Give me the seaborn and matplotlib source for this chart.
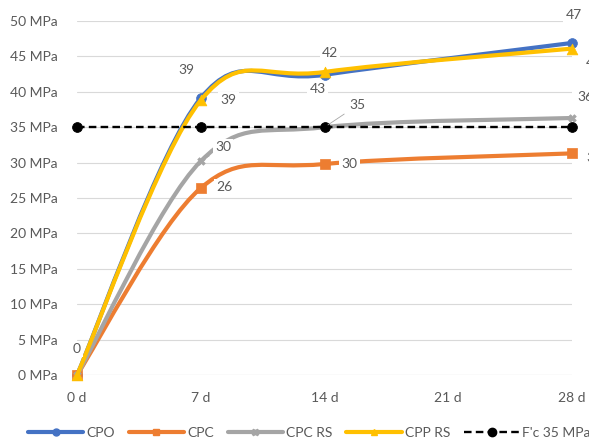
import numpy as np
import pandas as pd
import matplotlib
matplotlib.use("Agg")
import matplotlib.pyplot as plt
import seaborn as sns
from matplotlib.path import Path
from matplotlib.patches import PathPatch
from matplotlib.lines import Line2D

# data
days = [0, 7, 14, 28]
tick_days = [0, 7, 14, 21, 28]
tick_labels = ["0 d", "7 d", "14 d", "21 d", "28 d"]
cpo = [0, 39.1, 42.4, 46.9]
cpc = [0, 26.4, 29.8, 31.3]
cpc_rs = [0, 30.2, 35.0, 36.3]
cpp_rs = [0, 38.8, 42.8, 46.1]
fc = [35, 35, 35, 35]

sns.set_theme(style="white")
plt.rcParams["font.family"] = ["Lato", "DejaVu Sans"]
TXT = "#595959"

series = [
    ("CPO", cpo, "#4472C4", "o", 50),
    ("CPC", cpc, "#ED7D31", "s", 55),
    ("CPC RS", cpc_rs, "#A5A5A5", "X", 30),
    ("CPP RS", cpp_rs, "#FFC000", "^", 60),
]


def smooth_path(x, y):
    # Excel-style smoothed line (Catmull-Rom as cubic bezier)
    pts = np.column_stack([x, y]).astype(float)
    n = len(pts)
    verts = [pts[0]]
    codes = [Path.MOVETO]
    for i in range(n - 1):
        p0 = pts[i - 1] if i > 0 else pts[i]
        p1, p2 = pts[i], pts[i + 1]
        p3 = pts[i + 2] if i + 2 < n else pts[i + 1]
        verts += [p1 + (p2 - p0) / 6, p2 - (p3 - p1) / 6, p2]
        codes += [Path.CURVE4] * 3
    return Path(verts, codes)


fig = plt.figure(figsize=(5.89, 4.43), dpi=100)
ax = fig.add_axes([77 / 589, 1 - 375 / 443, (572 - 77) / 589, (375 - 21) / 443])

for k, (name, vals, col, mk, sz) in enumerate(series):
    ax.add_patch(PathPatch(smooth_path(days, vals), facecolor="none", edgecolor=col,
                           lw=3.0, zorder=3 + k, capstyle="round"))
    df = pd.DataFrame({"day": days, "mpa": vals})
    sns.scatterplot(data=df, x="day", y="mpa", marker=mk, s=sz, color=col,
                    edgecolor=col, linewidth=0.5, ax=ax, zorder=3.5 + k, clip_on=False)

fc_df = pd.DataFrame({"day": days, "mpa": fc})
sns.lineplot(data=fc_df, x="day", y="mpa", color="black", lw=1.7, dashes=False,
             ax=ax, zorder=8)
ax.lines[-1].set_dashes([3.2, 1.8])
sns.scatterplot(data=fc_df, x="day", y="mpa", color="black", s=50, ax=ax,
                zorder=8.5, clip_on=False, edgecolor="black")

# data labels (offsets in points)
box = dict(boxstyle="square,pad=0.15", fc="white", ec="none")
def lab(x, y, s, dx, dy, leader=False):
    kw = dict(textcoords="offset points", ha="center", va="center", fontsize=10,
              color=TXT, bbox=box, zorder=10, annotation_clip=False)
    if leader:
        kw["arrowprops"] = dict(arrowstyle="-", color="#A6A6A6", lw=0.6, shrinkA=3, shrinkB=3)
    ax.annotate(s, xy=(x, y), xytext=(dx, dy), **kw)

lab(0, cpo[0], "0", 0, 19)
lab(7, cpo[1], "39", -10, 20)
lab(14, cpo[2], "42", 4, 16)
lab(28, cpo[3], "47", 1, 20)
lab(7, cpp_rs[1], "39", 20, 0)
lab(14, cpp_rs[2], "43", -5, -12)
lab(28, cpp_rs[3], "46", 16, -10)
lab(7, cpc[1], "26", 17, 1)
lab(14, cpc[2], "30", 18, 0)
lab(28, cpc[3], "31", 16, -3)
lab(7, cpc_rs[1], "30", 16, 10, leader=True)
lab(14, cpc_rs[2], "35", 24, 16, leader=True)
lab(28, cpc_rs[3], "36", 10, 15)

ax.set_xlim(0, 28)
ax.set_ylim(0, 50)
ax.set_xticks(tick_days)
ax.set_xticklabels(tick_labels)
ax.set_yticks(range(0, 51, 5))
ax.set_yticklabels([f"{v} MPa" for v in range(0, 51, 5)])
ax.tick_params(axis="both", length=0, labelsize=10, labelcolor=TXT)
ax.tick_params(axis="y", pad=14)
ax.tick_params(axis="x", pad=12)
ax.set_xlabel("")
ax.set_ylabel("")
ax.yaxis.grid(True, color="#D9D9D9", lw=0.8)
ax.xaxis.grid(False)
for s in ax.spines.values():
    s.set_visible(False)
ax.axhline(0, color="#D9D9D9", lw=0.8, zorder=1)

handles = [Line2D([], [], color=col, lw=3.0, marker=mk, markersize=5)
           for _, _, col, mk, _ in series]
handles.append(Line2D([], [], color="black", lw=1.7, ls=(0, (3.2, 1.8)), marker="o", markersize=6))
fig.legend(handles, [s[0] for s in series] + ["F'c 35 MPa"], loc="center",
           bbox_to_anchor=(0.525, 1 - 433 / 443), ncol=5, frameon=False, fontsize=10,
           handlelength=4.0, columnspacing=1.0, handletextpad=0.2, labelcolor=TXT)

fig.savefig("out.png", dpi=100)
